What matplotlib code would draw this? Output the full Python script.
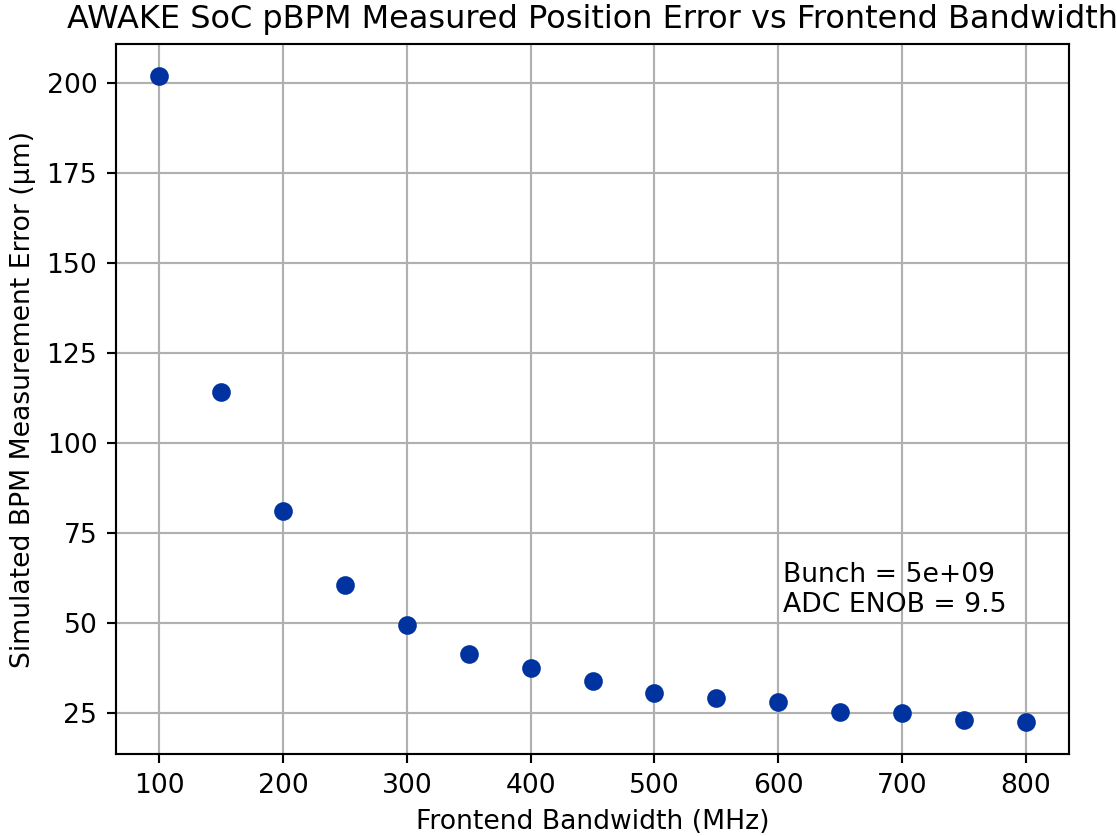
import matplotlib
matplotlib.use("Agg")
import matplotlib.pyplot as plt

bandwidth_mhz = [100, 150, 200, 250, 300, 350, 400, 450, 500, 550, 600, 650, 700, 750, 800]
error_um = [201.8, 114.3, 81.3, 60.6, 49.5, 41.4, 37.7, 34.0, 30.8, 29.2, 28.1, 25.5, 25.0, 23.3, 22.7]

title = "AWAKE SoC pBPM Measured Position Error vs Frontend Bandwidth"
xlabel = "Frontend Bandwidth (MHz)"
ylabel = "Simulated BPM Measurement Error (\u00b5m)"
annotation = "Bunch = 5e+09\nADC ENOB = 9.5"

dpi = 192
fig = plt.figure(figsize=(1117 / dpi, 836 / dpi), dpi=dpi)
ax = fig.add_axes([116 / 1117, 1 - 754 / 836, (1069 - 116) / 1117, (754 - 44) / 836])

ax.scatter(bandwidth_mhz, error_um, color="#0033A0", zorder=3)
ax.grid(True)
ax.set_axisbelow(True)
ax.set_title(title, fontsize=12)
ax.set_xlabel(xlabel)
ax.set_ylabel(ylabel)
ax.text(0.70, 0.20, annotation, transform=ax.transAxes, fontsize=10, ha="left")

fig.savefig("out.png", dpi=dpi)
